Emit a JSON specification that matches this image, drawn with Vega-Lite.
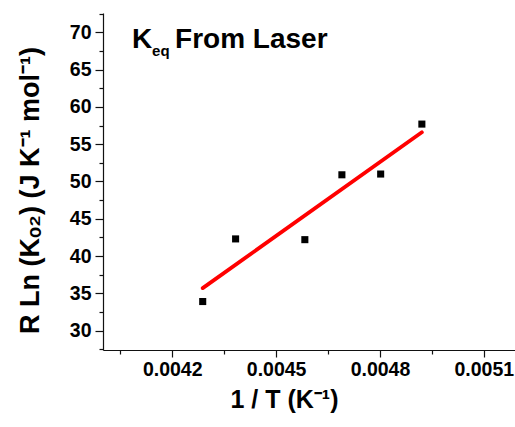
{
  "$schema": "https://vega.github.io/schema/vega-lite/v6.json",
  "width": 412,
  "height": 337,
  "autosize": {"type": "none"},
  "padding": {"left": 103, "top": 13, "right": 0, "bottom": 77},
  "background": "white",
  "config": {
    "view": {"stroke": null},
    "font": "Liberation Sans",
    "axis": {
      "grid": false,
      "domainColor": "#111111",
      "tickColor": "#111111",
      "domainWidth": 1.2,
      "tickWidth": 1.2,
      "labelColor": "black",
      "titleColor": "black",
      "labelFont": "Liberation Sans",
      "titleFont": "Liberation Sans",
      "labelFontWeight": "bold",
      "titleFontWeight": "bold"
    }
  },
  "datasets": {
    "points": [
      {"inv_T": 0.004288, "RlnK": 33.9},
      {"inv_T": 0.004383, "RlnK": 42.3},
      {"inv_T": 0.004583, "RlnK": 42.2},
      {"inv_T": 0.004690, "RlnK": 50.9},
      {"inv_T": 0.004802, "RlnK": 51.0},
      {"inv_T": 0.004921, "RlnK": 57.7}
    ],
    "fit": [
      {"inv_T": 0.004288, "RlnK": 35.7},
      {"inv_T": 0.004921, "RlnK": 56.6}
    ],
    "label": [
      {"inv_T": 0.004084, "RlnK": 67.9, "main": "K", "sub": "eq", "rest": "From Laser"}
    ]
  },
  "layer": [
    {
      "data": {"name": "fit"},
      "mark": {"type": "line", "color": "#ff0000", "strokeWidth": 3.8, "strokeCap": "round"},
      "encoding": {
        "x": {
          "field": "inv_T", "type": "quantitative",
          "scale": {"domain": [0.0040, 0.00519], "nice": false, "zero": false},
          "axis": {
            "orient": "bottom",
            "values": [0.0042, 0.0045, 0.0048, 0.0051],
            "format": ".4f",
            "tickSize": 7,
            "labelPadding": 3,
            "labelFontSize": 19.5,
            "labelFlush": false,
            "labelOverlap": false,
            "title": "1 / T (K⁻¹)",
            "titleFontSize": 25,
            "titleX": 181,
            "titleY": 57,
            "titleAlign": "center",
            "titleBaseline": "alphabetic"
          }
        },
        "y": {
          "field": "RlnK", "type": "quantitative",
          "scale": {"domain": [27.4, 72.6], "nice": false, "zero": false},
          "axis": {
            "orient": "left",
            "values": [30, 35, 40, 45, 50, 55, 60, 65, 70],
            "format": "d",
            "tickSize": 8,
            "labelPadding": 4,
            "labelFontSize": 19.5,
            "labelOverlap": false,
            "title": "R Ln (Kₒ₂) (J K⁻¹ mol⁻¹)",
            "titleFontSize": 27,
            "titleAngle": 270,
            "titleX": -65,
            "titleY": 177,
            "titleAlign": "center",
            "titleBaseline": "alphabetic"
          }
        }
      }
    },
    {
      "data": {"name": "points"},
      "mark": {"type": "point", "shape": "square", "filled": true, "color": "black", "size": 50, "opacity": 1},
      "encoding": {
        "x": {
          "field": "inv_T", "type": "quantitative",
          "scale": {"domain": [0.0040, 0.00519], "nice": false, "zero": false},
          "axis": {
            "orient": "bottom",
            "values": [0.00405, 0.00435, 0.00465, 0.00495],
            "tickSize": 4,
            "labels": false,
            "domain": false,
            "title": null
          }
        },
        "y": {
          "field": "RlnK", "type": "quantitative",
          "scale": {"domain": [27.4, 72.6], "nice": false, "zero": false},
          "axis": {
            "orient": "left",
            "values": [27.5, 32.5, 37.5, 42.5, 47.5, 52.5, 57.5, 62.5, 67.5, 72.5],
            "tickSize": 4,
            "labels": false,
            "domain": false,
            "title": null
          }
        }
      }
    },
    {
      "data": {"name": "label"},
      "mark": {"type": "text", "align": "left", "baseline": "alphabetic", "fontSize": 28, "fontWeight": "bold", "font": "Liberation Sans", "color": "black"},
      "encoding": {
        "x": {"field": "inv_T", "type": "quantitative", "axis": null},
        "y": {"field": "RlnK", "type": "quantitative", "axis": null},
        "text": {"field": "main"}
      }
    },
    {
      "data": {"name": "label"},
      "mark": {"type": "text", "align": "left", "baseline": "alphabetic", "fontSize": 15, "fontWeight": "bold", "font": "Liberation Sans", "color": "black", "dx": 20, "dy": 8},
      "encoding": {
        "x": {"field": "inv_T", "type": "quantitative", "axis": null},
        "y": {"field": "RlnK", "type": "quantitative", "axis": null},
        "text": {"field": "sub"}
      }
    },
    {
      "data": {"name": "label"},
      "mark": {"type": "text", "align": "left", "baseline": "alphabetic", "fontSize": 28, "fontWeight": "bold", "font": "Liberation Sans", "color": "black", "dx": 43},
      "encoding": {
        "x": {"field": "inv_T", "type": "quantitative", "axis": null},
        "y": {"field": "RlnK", "type": "quantitative", "axis": null},
        "text": {"field": "rest"}
      }
    }
  ],
  "resolve": {"axis": {"x": "independent", "y": "independent"}}
}
